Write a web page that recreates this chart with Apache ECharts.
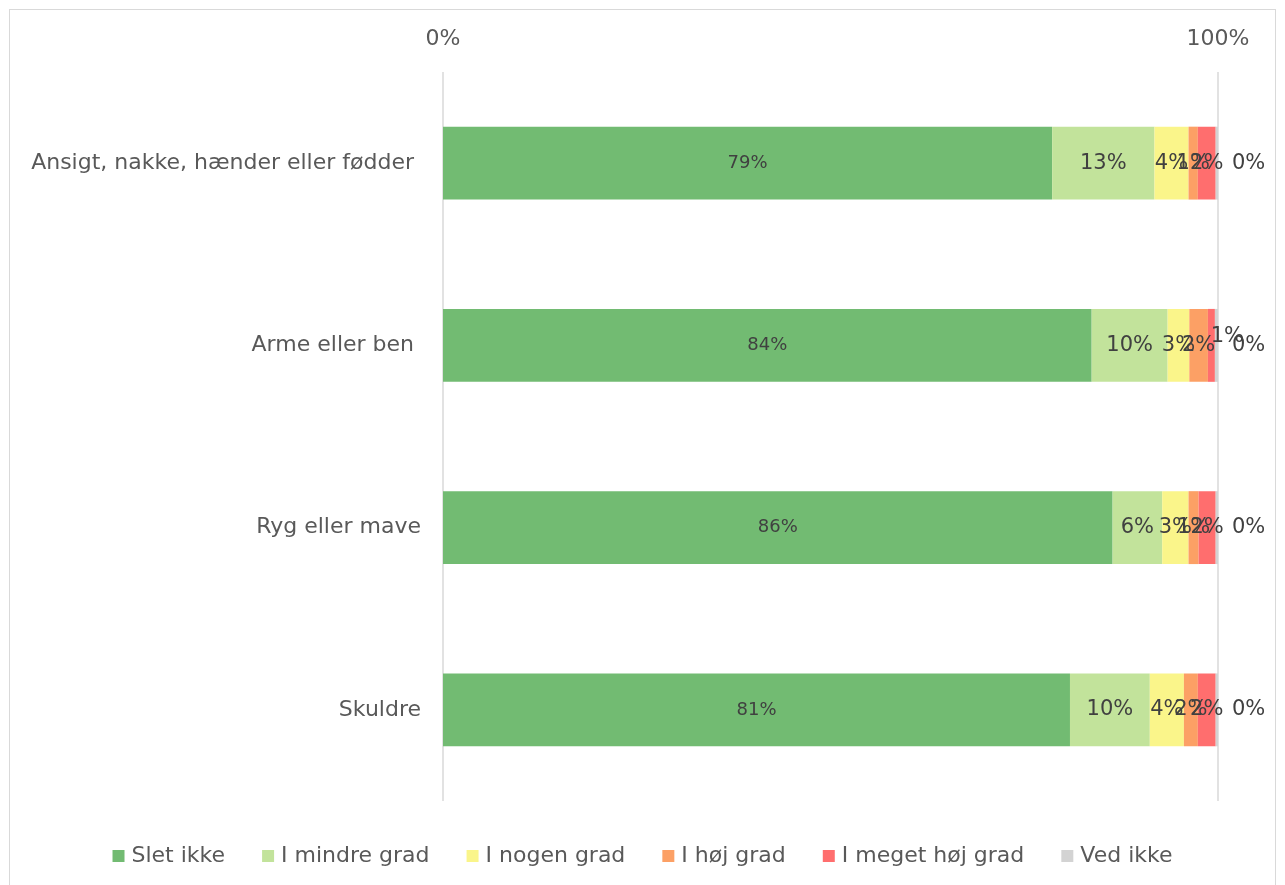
<!DOCTYPE html>
<html><head><meta charset="utf-8">
<script src="https://cdn.jsdelivr.net/npm/echarts@6/dist/echarts.min.js"></script>
<style>
html,body{margin:0;padding:0;background:#fff;}
#wrap{position:absolute;left:9px;top:9px;width:1267px;height:880px;border:1px solid #d9d9d9;box-sizing:border-box;}
#c{position:absolute;left:0;top:0;width:1285px;height:885px;}
</style></head>
<body><div id="wrap"></div><div id="c"></div>
<script>
const categories = ['Ansigt, nakke, hænder eller fødder ', 'Arme eller ben ', 'Ryg eller mave', 'Skuldre'];
const seriesNames = ['Slet ikke', 'I mindre grad', 'I nogen grad', 'I høj grad', 'I meget høj grad', 'Ved ikke'];
const sletIkke = [78.6, 83.7, 86.4, 80.9];
const iMindreGrad = [13.2, 9.8, 6.4, 10.3];
const iNogenGrad = [4.4, 2.8, 3.4, 4.4];
const iHoejGrad = [1.2, 2.4, 1.3, 1.8];
const iMegetHoejGrad = [2.3, 0.9, 2.2, 2.3];
const vedIkke = [0.3, 0.4, 0.3, 0.3];
const xTicks = ['0%', '100%'];
const colors = ['#72BB72', '#C2E39B', '#FAF58A', '#FCA065', '#FF6E6E', '#D3D3D3'];
const values = [sletIkke, iMindreGrad, iNogenGrad, iHoejGrad, iMegetHoejGrad, vedIkke];

const FONT = 'DejaVu Sans';
const series = values.map((arr, i) => ({
  name: seriesNames[i],
  type: 'bar',
  stack: 'total',
  barWidth: '40%',
  data: arr.map((v, j) => (i === 4 && j === 1) ? { value: v, label: { offset: [16, -9] } } : v),
  itemStyle: { color: colors[i] },
  label: {
    show: true,
    position: i === 5 ? 'right' : 'inside',
    distance: 14,
    formatter: p => Math.round(p.value) + '%',
    fontFamily: FONT,
    fontSize: i === 0 ? 18 : 21,
    color: '#404040'
  }
}));

const chart = echarts.init(document.getElementById('c'));
chart.setOption({
  animation: false,
  textStyle: { fontFamily: FONT },
  grid: { left: 443, right: 67, top: 72, bottom: 84 },
  xAxis: {
    type: 'value', position: 'top', min: 0, max: 100, interval: 100,
    axisLine: { show: false }, axisTick: { show: false },
    splitLine: { show: true, lineStyle: { color: '#d9d9d9', width: 1.5 } },
    axisLabel: { formatter: v => xTicks[v / 100], fontFamily: FONT, fontSize: 22, color: '#595959', margin: 22 }
  },
  yAxis: {
    type: 'category', inverse: true, data: categories,
    axisLine: { show: false }, axisTick: { show: false },
    axisLabel: { fontFamily: FONT, fontSize: 22, color: '#595959', margin: 22 }
  },
  legend: {
    bottom: 13, left: 'center', itemWidth: 12, itemHeight: 12, itemGap: 37,
    icon: 'rect',
    textStyle: { fontFamily: FONT, fontSize: 22, color: '#595959', padding: [0, 0, 0, 2] },
    data: seriesNames
  },
  series
});
</script></body></html>
